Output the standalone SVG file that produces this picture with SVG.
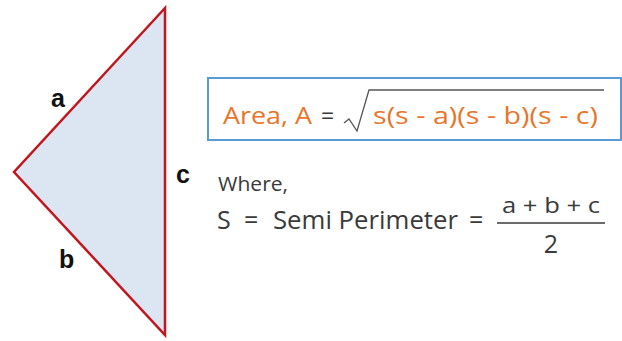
<svg xmlns="http://www.w3.org/2000/svg" width="622" height="341" viewBox="0 0 622 341">
<style>
.lbl{font-family:"Liberation Sans",Arial,sans-serif;font-weight:bold;font-size:25px;fill:#111}
.orange{font-family:"Open Sans","Liberation Sans",sans-serif;font-size:24px;fill:#e8752a}
.gray{font-family:"Open Sans","Liberation Sans",sans-serif;fill:#3a3a3a}
</style>
<rect width="622" height="341" fill="#ffffff"/>
<g id="triangle">
<polygon points="165,8 14,172 165,335" fill="#dce6f3" stroke="#c0161c" stroke-width="2.5" stroke-linejoin="miter"/>
<text class="lbl" x="51" y="107">a</text>
<text class="lbl" x="59" y="268">b</text>
<text class="lbl" x="176" y="183">c</text>
</g>
<g id="area-formula">
<rect x="208" y="78" width="413" height="62" fill="#ffffff" stroke="#5b9bd5" stroke-width="2"/>
<text class="orange" x="223" y="124" textLength="89" lengthAdjust="spacingAndGlyphs">Area, A</text>
<text class="gray" x="321" y="124" font-size="23">=</text>
<polyline points="344,123 349,119 357,131 369,90 604,90" fill="none" stroke="#555" stroke-width="1.3"/>
<text class="orange" x="373" y="124" textLength="225" lengthAdjust="spacingAndGlyphs">s(s - a)(s - b)(s - c)</text>
</g>
<g id="semi-perimeter">
<text class="gray" x="218" y="191" font-size="20" textLength="70" lengthAdjust="spacingAndGlyphs">Where,</text>
<text class="gray" x="217" y="229" font-size="25">S</text>
<text class="gray" x="244" y="229" font-size="25">=</text>
<text class="gray" x="273" y="229" font-size="25" textLength="185" lengthAdjust="spacingAndGlyphs">Semi Perimeter</text>
<text class="gray" x="469" y="229" font-size="25">=</text>
<text class="gray" x="502" y="213" font-size="22" textLength="98" lengthAdjust="spacingAndGlyphs">a + b + c</text>
<line x1="497" y1="223" x2="605" y2="223" stroke="#3a3a3a" stroke-width="1.5"/>
<text class="gray" x="551" y="253" font-size="25" text-anchor="middle">2</text>
</g>
</svg>
